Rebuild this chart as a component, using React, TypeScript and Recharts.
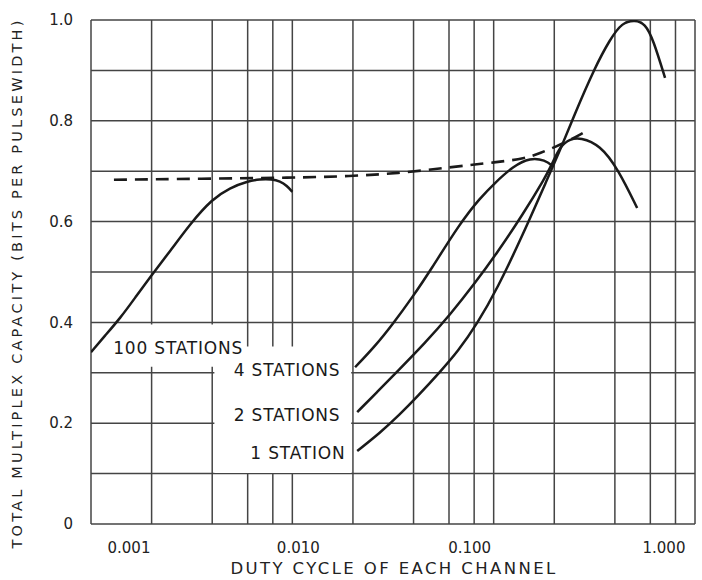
import React from 'react';
import { LineChart, Line, XAxis, YAxis, CartesianGrid, ReferenceArea, ReferenceDot } from 'recharts';

// log-scaled duty cycle axis
const xTicks = [0.001, 0.01, 0.1, 1];
const xTickLabels = ['0.001', '0.010', '0.100', '1.000'];
const xGridValues = [0.001, 0.002, 0.004, 0.006, 0.008, 0.01, 0.02, 0.04, 0.06, 0.08, 0.1, 0.2, 0.4, 0.6, 0.8, 1];

const yTicks = [0, 0.2, 0.4, 0.6, 0.8, 1];
const yTickLabels = ['0', '0.2', '0.4', '0.6', '0.8', '1.0'];
const yGridValues = [0, 0.1, 0.2, 0.3, 0.4, 0.5, 0.6, 0.7, 0.8, 0.9, 1];

// 100 stations
const s100X = [0.001, 0.00117, 0.0014, 0.00165, 0.002, 0.0025, 0.0031, 0.004, 0.0049, 0.006, 0.0069, 0.0079, 0.0087, 0.0094, 0.01];
const s100Y = [0.341, 0.373, 0.409, 0.448, 0.494, 0.544, 0.595, 0.645, 0.667, 0.68, 0.684, 0.684, 0.68, 0.671, 0.659];

// 4 stations
const s4X = [0.0205, 0.0258, 0.0316, 0.0398, 0.0483, 0.0681, 0.0856, 0.1016, 0.125, 0.152, 0.18, 0.197];
const s4Y = [0.311, 0.353, 0.397, 0.452, 0.502, 0.597, 0.647, 0.677, 0.71, 0.727, 0.722, 0.71];

// 2 stations
const s2X = [0.021, 0.0264, 0.0331, 0.0456, 0.0607, 0.0808, 0.104, 0.14, 0.18, 0.195, 0.214, 0.24, 0.269, 0.338, 0.415, 0.516];
const s2Y = [0.222, 0.262, 0.302, 0.359, 0.415, 0.478, 0.538, 0.615, 0.687, 0.714, 0.75, 0.764, 0.767, 0.752, 0.704, 0.627];

// 1 station
const s1X = [0.021, 0.0273, 0.0343, 0.0416, 0.0542, 0.0666, 0.0827, 0.104, 0.14, 0.184, 0.214, 0.248, 0.319, 0.379, 0.434, 0.504, 0.565, 0.619, 0.71];
const s1Y = [0.145, 0.181, 0.218, 0.252, 0.302, 0.343, 0.397, 0.466, 0.575, 0.683, 0.742, 0.806, 0.907, 0.962, 0.995, 1.0, 0.993, 0.962, 0.885];

// dashed envelope
const envX = [0.0013, 0.0035, 0.01, 0.0194, 0.0343, 0.0607, 0.104, 0.143, 0.17, 0.202, 0.24, 0.278];
const envY = [0.683, 0.685, 0.687, 0.69, 0.696, 0.708, 0.718, 0.725, 0.736, 0.748, 0.762, 0.776];

const zip = (xs: number[], ys: number[]) => xs.map((x, i) => ({ x, y: ys[i] }));

const s100 = zip(s100X, s100Y);
const s4 = zip(s4X, s4Y);
const s2 = zip(s2X, s2Y);
const s1 = zip(s1X, s1Y);
const env = zip(envX, envY);

const INK = '#1a1a1a';
const GRID = '#444';
const TXT = '#222';
const FONT = '"DejaVu Sans", sans-serif';

const xTickShift = [38, 6, -24, -31];

const XTick = (props: any) => {
  const { x, y, payload } = props;
  const i = xTicks.indexOf(payload.value);
  return (
    <text x={x + xTickShift[i]} y={y} dy="0.71em" textAnchor="middle" fontSize={15} fill={TXT} fontFamily={FONT}>
      {xTickLabels[i]}
    </text>
  );
};

const YTick = (props: any) => {
  const { x, y, payload } = props;
  const i = yTicks.indexOf(payload.value);
  return (
    <text x={x} y={y} dy="0.35em" textAnchor="end" fontSize={15} fill={TXT} fontFamily={FONT}>
      {yTickLabels[i]}
    </text>
  );
};

const seriesLabel = (text: string, anchor: 'start' | 'end') => (props: any) => {
  const { viewBox } = props;
  return (
    <text
      x={viewBox.x}
      y={viewBox.y}
      dominantBaseline="central"
      textAnchor={anchor}
      fontSize={17}
      letterSpacing={0.8}
      fill={INK}
      fontFamily={FONT}
    >
      {text}
    </text>
  );
};

export default function App() {
  return (
    <div style={{ position: 'absolute', left: 0, top: 0, background: '#fff' }}>
      <LineChart width={702} height={580} margin={{ top: 20, right: 7, left: 0, bottom: 0 }}>
        <CartesianGrid
          stroke={GRID}
          strokeWidth={1.5}
          verticalValues={xGridValues}
          horizontalValues={yGridValues}
        />
        <XAxis
          dataKey="x"
          type="number"
          scale="log"
          domain={[0.001, 1]}
          allowDataOverflow
          ticks={xTicks}
          interval={0}
          height={56}
          tickSize={0}
          tickMargin={18}
          axisLine={false}
          tick={<XTick />}
          label={{
            content: () => (
              <text x={394} y={568} dominantBaseline="central" textAnchor="middle" fontSize={16.5} letterSpacing={2.4} fill={TXT} fontFamily={FONT}>
                DUTY CYCLE OF EACH CHANNEL
              </text>
            ),
          }}
        />
        <YAxis
          type="number"
          domain={[0, 1]}
          allowDataOverflow
          ticks={yTicks}
          interval={0}
          width={91}
          tickSize={0}
          tickMargin={18}
          axisLine={false}
          tick={<YTick />}
          label={{
            content: () => (
              <text
                x={17}
                y={283}
                transform="rotate(-90 17 283)"
                dominantBaseline="central"
                textAnchor="middle"
                fontSize={14.5}
                letterSpacing={3.2}
                fill={TXT}
                fontFamily={FONT}
              >
                TOTAL MULTIPLEX CAPACITY (BITS PER PULSEWIDTH)
              </text>
            ),
          }}
        />

        {/* label boxes break the grid */}
        <ReferenceArea x1={0.00102} x2={0.0058} y1={0.312} y2={0.396} fill="#fff" fillOpacity={1} stroke="none" />
        <ReferenceArea x1={0.0041} x2={0.0196} y1={0.101} y2={0.352} fill="#fff" fillOpacity={1} stroke="none" />

        <Line data={env} dataKey="y" type="basis" stroke={INK} strokeWidth={2.6} strokeDasharray="13 8" dot={false} isAnimationActive={false} />
        <Line data={s100} dataKey="y" type="basis" stroke={INK} strokeWidth={2.5} dot={false} isAnimationActive={false} />
        <Line data={s4} dataKey="y" type="basis" stroke={INK} strokeWidth={2.5} dot={false} isAnimationActive={false} />
        <Line data={s2} dataKey="y" type="basis" stroke={INK} strokeWidth={2.5} dot={false} isAnimationActive={false} />
        <Line data={s1} dataKey="y" type="basis" stroke={INK} strokeWidth={2.5} dot={false} isAnimationActive={false} />

        <ReferenceDot x={0.00129} y={0.349} r={0} stroke="none" label={seriesLabel('100 STATIONS', 'start')} />
        <ReferenceDot x={0.01734} y={0.306} r={0} stroke="none" label={seriesLabel('4 STATIONS', 'end')} />
        <ReferenceDot x={0.01734} y={0.216} r={0} stroke="none" label={seriesLabel('2 STATIONS', 'end')} />
        <ReferenceDot x={0.01836} y={0.141} r={0} stroke="none" label={seriesLabel('1 STATION', 'end')} />
      </LineChart>
    </div>
  );
}
